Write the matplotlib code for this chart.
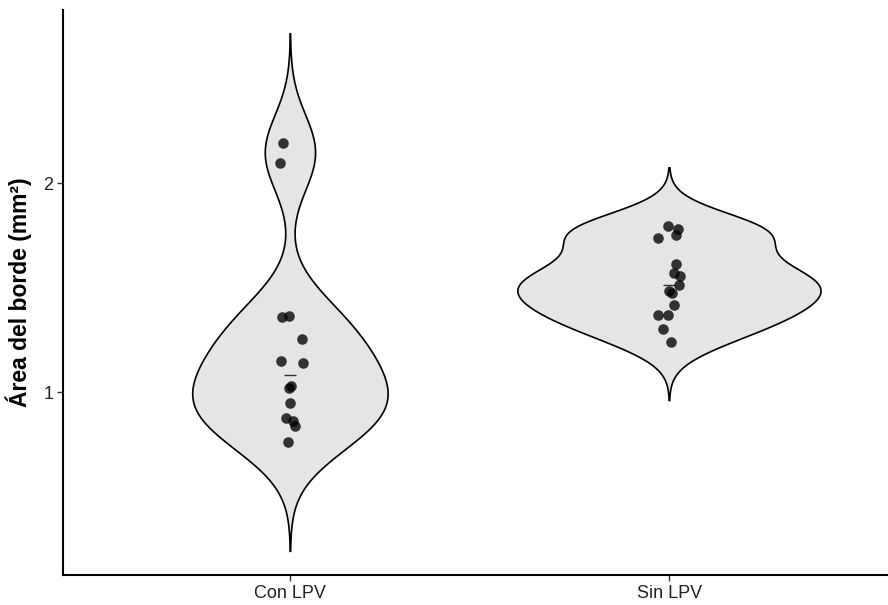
import numpy as np
import matplotlib
matplotlib.use("Agg")
import matplotlib.pyplot as plt

plt.rcParams['font.family'] = ['Liberation Sans', 'DejaVu Sans']

categories = ["Con LPV", "Sin LPV"]
con_values = [2.193, 2.096, 1.359, 1.362, 1.254, 1.147, 1.137, 1.029, 1.019,
              0.946, 0.877, 0.861, 0.837, 0.759]
con_jitter = [-0.019, -0.028, -0.022, -0.004, 0.031, -0.026, 0.032, 0.002, -0.003,
              0.0, -0.011, 0.007, 0.011, -0.006]
sin_values = [1.794, 1.778, 1.753, 1.737, 1.611, 1.571, 1.557, 1.510, 1.485,
              1.474, 1.418, 1.368, 1.368, 1.301, 1.238]
sin_jitter = [-0.003, 0.022, 0.017, -0.029, 0.018, 0.013, 0.028, 0.026, -0.002,
              0.008, 0.011, -0.029, -0.004, -0.017, 0.003]
y_ticks = [1, 2]
y_label = "Área del borde (mm²)"

groups = [np.array(con_values), np.array(sin_values)]
jitters = [np.array(con_jitter), np.array(sin_jitter)]


def nrd0(x):
    sd = np.std(x, ddof=1)
    q75, q25 = np.percentile(x, [75, 25])
    lo = min(sd, (q75 - q25) / 1.34)
    return 0.9 * lo * len(x) ** (-0.2)


def kde(x, bw, grid):
    z = (grid[:, None] - x[None, :]) / bw
    return np.exp(-0.5 * z ** 2).sum(axis=1) / (len(x) * bw * np.sqrt(2 * np.pi))


fig = plt.figure(figsize=(8.88, 6.05), dpi=100)
ax = fig.add_axes([63 / 888, 1 - 575 / 605, (887 - 63) / 888, (575 - 10) / 605])

dens = []
for g in groups:
    bw = nrd0(g)
    grid = np.linspace(g.min() - 3 * bw, g.max() + 3 * bw, 512)
    dens.append((grid, kde(g, bw, grid)))
dmax = max(d.max() for _, d in dens)
half = 0.40

for i, (grid, d) in enumerate(dens):
    pos = i + 1
    w = d / dmax * half
    xs = np.concatenate([pos - w, (pos + w)[::-1]])
    ys = np.concatenate([grid, grid[::-1]])
    ax.fill(xs, ys, facecolor="#e5e5e5", edgecolor="black", linewidth=1.2, zorder=1)

for i, (g, j) in enumerate(zip(groups, jitters)):
    pos = i + 1
    ax.scatter(pos + j, g, s=58, color="black", alpha=0.78, linewidths=0, zorder=3)
    ax.hlines(np.median(g), pos - 0.016, pos + 0.016, color="#333333", linewidth=1.0, zorder=2)

ax.set_xlim(0.4, 2.574)
ax.set_ylim(0.1244, 2.828)
ax.set_xticks([1, 2])
ax.set_xticklabels(categories)
ax.set_yticks(y_ticks)
ax.set_yticklabels([str(t) for t in y_ticks])
ax.tick_params(axis="both", labelsize=13, length=4, width=1, color="#333333",
               labelcolor="#222222", direction="out", pad=3)
ax.set_ylabel(y_label, fontsize=16.5, fontweight="bold", labelpad=8)

for s in ["top", "right"]:
    ax.spines[s].set_visible(False)
for s in ["left", "bottom"]:
    ax.spines[s].set_linewidth(1.5)
    ax.spines[s].set_color("black")

fig.savefig("out.png", dpi=100)
